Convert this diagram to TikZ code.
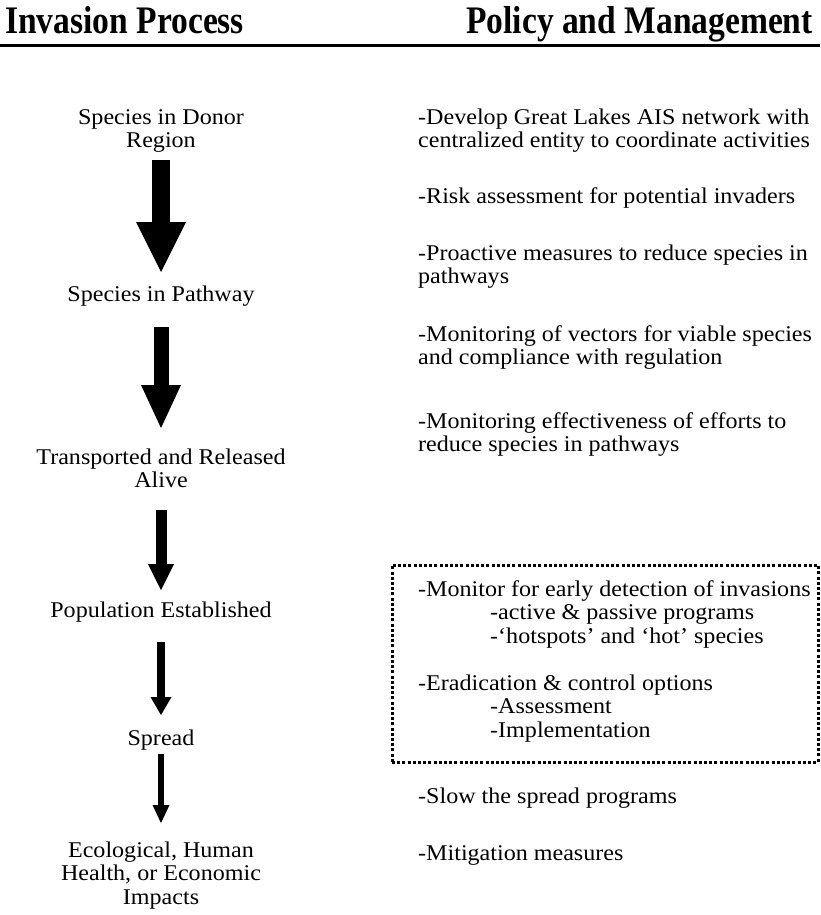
\documentclass[tikz,border=0pt]{standalone}
\usepackage{fontspec}
\setmainfont{Liberation Serif}[FakeStretch=1.07]
\newfontfamily\hdfont{Liberation Serif}[FakeStretch=0.86]
\usetikzlibrary{arrows.meta}
\newcommand\bodyfnt{\fontsize{22.5}{23.5}\selectfont}
\newcommand\hdfnt{\hdfont\bfseries\fontsize{39}{41}\selectfont}
\begin{document}
\begin{tikzpicture}[x=1pt,y=-1pt,
  lefttxt/.style={anchor=north, align=center, inner sep=0pt, font=\bodyfnt},
  righttxt/.style={anchor=north west, align=left, inner sep=0pt, font=\bodyfnt},
  hd/.style={inner sep=0pt, font=\hdfnt},
  barrow/.style n args={3}{line width=#1pt, -{Triangle[width=#2pt 0, length=#3pt 0, line width=0pt]}},
  dotbox/.style={draw, line width=3pt, dash pattern=on 3pt off 2.2pt, inner sep=0pt}
]
\useasboundingbox (0,0) rectangle (820,915);
% headers
\node[hd, anchor=base west] (h1) at (5,34) {Invasion Process};
\node[hd, anchor=base east] (h2) at (813,34) {Policy and Management};
\coordinate (rl) at (0,45.5);
\coordinate (rr) at (820,45.5);
\draw[line width=3.5pt] (rl) -- (rr);
% left column
\node[lefttxt] (n1) at (161,107.5) {\strut Species in Donor\\Region};
\node[lefttxt] (n2) at (161,284.5) {\strut Species in Pathway};
\node[lefttxt] (n3) at (161,447.5) {\strut Transported and Released\\Alive};
\node[lefttxt] (n4) at (161,600.5) {\strut Population Established};
\node[lefttxt] (n5) at (161,728.5) {\strut Spread};
\node[lefttxt] (n6) at (161,840.5) {\strut Ecological, Human\\Health, or Economic\\Impacts};
% arrows
\coordinate (a1s) at (161,160); \coordinate (a1e) at (161,272);
\coordinate (a2s) at (161,327); \coordinate (a2e) at (161,428);
\coordinate (a3s) at (161,510); \coordinate (a3e) at (161,590);
\coordinate (a4s) at (161,642); \coordinate (a4e) at (161,715);
\coordinate (a5s) at (161,754); \coordinate (a5e) at (161,823);
\draw[barrow={18}{50}{50}] (a1s) -- (a1e);
\draw[barrow={15}{40}{43}] (a2s) -- (a2e);
\draw[barrow={11}{26}{26}] (a3s) -- (a3e);
\draw[barrow={8}{21}{18}] (a4s) -- (a4e);
\draw[barrow={6}{17}{18}] (a5s) -- (a5e);
% right column
\node[righttxt] (r1) at (418,107.5) {\strut -Develop Great Lakes AIS network with\\centralized entity to coordinate activities};
\node[righttxt] (r2) at (418,186.5) {\strut -Risk assessment for potential invaders};
\node[righttxt] (r3) at (418,243.5) {\strut -Proactive measures to reduce species in\\pathways};
\node[righttxt] (r4) at (418,324.5) {\strut -Monitoring of vectors for viable species\\and compliance with regulation};
\node[righttxt] (r5) at (418,411.5) {\strut -Monitoring effectiveness of efforts to\\reduce species in pathways};
\node[dotbox, minimum width=426pt, minimum height=197pt] (box) at (605,663.5) {};
\node[righttxt] (r6) at (418,579.5) {\strut -Monitor for early detection of invasions\\\hspace*{72pt}-active \& passive programs\\\hspace*{72pt}-`hotspots' and `hot' species};
\node[righttxt] (r7) at (418,673.5) {\strut -Eradication \& control options\\\hspace*{72pt}-Assessment\\\hspace*{72pt}-Implementation};
\node[righttxt] (r8) at (418,786.5) {\strut -Slow the spread programs};
\node[righttxt] (r9) at (418,843.5) {\strut -Mitigation measures};
\end{tikzpicture}
\end{document}
